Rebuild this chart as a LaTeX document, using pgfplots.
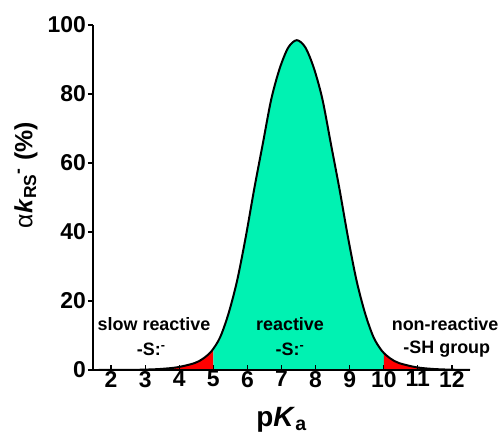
\documentclass[border=0pt]{standalone}
\usepackage{fontspec}
\setmainfont{Liberation Sans}
\usepackage{pgfplots}
\pgfplotsset{compat=1.18}

\definecolor{mint}{RGB}{0,242,178}

\begin{document}
\begin{tikzpicture}
\begin{axis}[
  scale only axis,
  width=377bp, height=345bp,
  xmin=1.47, xmax=12.53,
  ymin=0, ymax=100,
  axis lines=left,
  axis line style={-, line width=1.4pt},
  xtick={2,3,...,12},
  ytick={0,20,...,100},
  xtick align=inside,
  ytick align=outside,
  major tick length=5bp,
  tick style={line width=1.2pt, black},
  minor tick num=0,
  clip=false,
  axis on top,
  /pgf/number format/assume math mode=true,
  ticklabel style={font=\fontsize{23}{26}\selectfont\bfseries},
  xticklabel style={inner sep=1bp},
  yticklabel style={inner sep=2bp},
  xlabel={p\textit{K}\textsubscript{a}},
  xlabel style={font=\fontsize{28}{30}\selectfont\bfseries, at={(rel axis cs:0.5,0)}, anchor=north, yshift=-34bp},
  ylabel={\textmd{α}\textit{k}\textsubscript{RS}\textsuperscript{-} (\%)},
  ylabel style={font=\fontsize{25}{28}\selectfont\bfseries, at={(rel axis cs:0,0.565)}, anchor=south, yshift=52bp},
]
% red tail, pKa < 5
\addplot[fill=red, draw=none, smooth] coordinates {
  (1.5,0) (2.45,0.02) (2.95,0.1) (3.45,0.3) (3.95,0.8) (4.45,2.0) (4.7,3.3)
  (4.95,5.5) (5,6.2)
} \closedcycle;
% reactive band, 5 to 10
\addplot[fill=mint, draw=none, smooth] coordinates {
  (5,6.2) (5.2,9.5) (5.45,16.5) (5.7,26) (5.95,38.5) (6.2,52.5) (6.45,65.5)
  (6.7,78.5) (6.95,87.5) (7.2,93.5) (7.45,95.6) (7.7,93.5) (7.95,87.5)
  (8.2,78.5) (8.45,65.5) (8.7,52.5) (8.95,38.5) (9.2,26) (9.45,16.5) (9.7,9.5)
  (9.95,5.5) (10,5.0)
} \closedcycle;
% red tail, pKa > 10
\addplot[fill=red, draw=none, smooth] coordinates {
  (10,5.0) (10.2,3.3) (10.45,2.0) (10.95,0.8) (11.45,0.3) (11.95,0.1)
  (12.45,0.02) (12.53,0)
} \closedcycle;
% full curve
\addplot[black, line width=2pt, smooth] coordinates {
  (1.5,0) (2.45,0.02) (2.95,0.1) (3.45,0.3) (3.95,0.8) (4.45,2.0) (4.7,3.3)
  (4.95,5.5) (5.2,9.5) (5.45,16.5) (5.7,26) (5.95,38.5) (6.2,52.5) (6.45,65.5)
  (6.7,78.5) (6.95,87.5) (7.2,93.5) (7.45,95.6) (7.7,93.5) (7.95,87.5)
  (8.2,78.5) (8.45,65.5) (8.7,52.5) (8.95,38.5) (9.2,26) (9.45,16.5) (9.7,9.5)
  (9.95,5.5) (10.2,3.3) (10.45,2.0) (10.95,0.8) (11.45,0.3) (11.95,0.1)
  (12.45,0.02) (12.53,0)
};

\begin{scope}[every node/.style={font=\fontsize{18}{20}\selectfont\bfseries, inner sep=0pt}]
\node at (axis cs:3.26,13.2) {slow reactive};
\node at (axis cs:3.18,6.0) {-S:\textsuperscript{-}};
\node at (axis cs:7.25,13.2) {reactive};
\node at (axis cs:7.25,6.0) {-S:\textsuperscript{-}};
\node at (axis cs:11.8,13.2) {non-reactive};
\node at (axis cs:11.85,6.0) {-SH group};
\end{scope}
\end{axis}
\pgfresetboundingbox
\path[use as bounding box] (-93bp,-67bp) rectangle (407bp,370bp);
\end{tikzpicture}
\end{document}
